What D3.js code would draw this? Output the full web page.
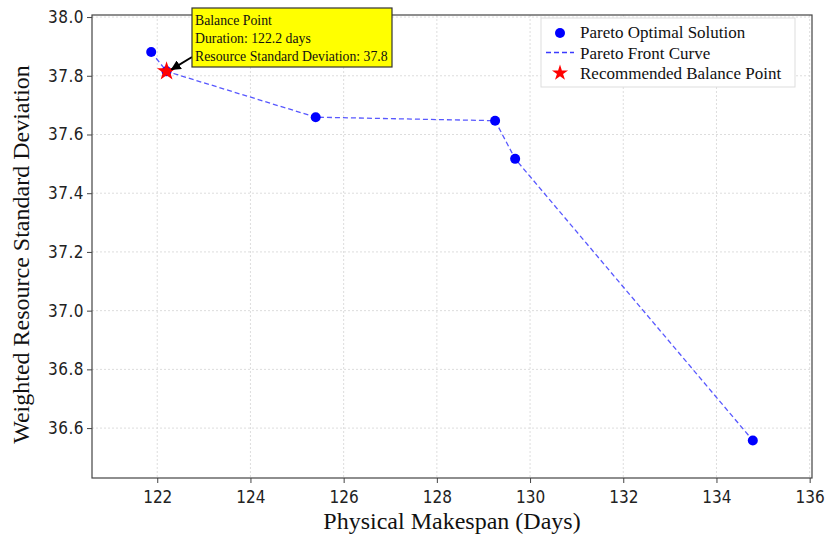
<!DOCTYPE html>
<html>
<head>
<meta charset="utf-8">
<script src="https://cdn.jsdelivr.net/npm/d3@7"></script>
<style>
  body { margin: 0; background: #fff; }
  .tick text { font-family: "Liberation Sans Narrow", "DejaVu Sans Condensed", "Liberation Sans", sans-serif; font-size: 17px; fill: #222; }
  .lbl { font-family: "Liberation Serif", "Times New Roman", serif; fill: #111; }
</style>
</head>
<body>
<div id="vis"></div>
<script>
// datos del frente de Pareto
const makespan = [121.87, 122.2, 125.4, 129.25, 129.68, 134.78];
const resStd = [37.881, 37.815, 37.659, 37.647, 37.517, 36.558];
const balance = { x: 122.2, y: 37.815 };
const xTicks = [122, 124, 126, 128, 130, 132, 134, 136];
const yTicks = [36.6, 36.8, 37.0, 37.2, 37.4, 37.6, 37.8, 38.0];
const noteLines = ["Balance Point", "Duration: 122.2 days", "Resource Standard Deviation: 37.8"];
const legendItems = ["Pareto Optimal Solution", "Pareto Front Curve", "Recommended Balance Point"];

const width = 826, height = 535;
const m = { left: 92, right: 14, top: 15, bottom: 57 };

const svg = d3.select("#vis").append("svg")
  .attr("width", width)
  .attr("height", height);

const x = d3.scaleLinear().domain([120.6, 136.05]).range([m.left, width - m.right]);
const y = d3.scaleLinear().domain([36.43, 38.007]).range([height - m.bottom, m.top]);

// grid
svg.append("g").selectAll("line").data(xTicks).enter().append("line")
  .attr("x1", d => x(d)).attr("x2", d => x(d))
  .attr("y1", m.top).attr("y2", height - m.bottom)
  .attr("stroke", "#ddd").attr("stroke-dasharray", "2,2");
svg.append("g").selectAll("line").data(yTicks).enter().append("line")
  .attr("y1", d => y(d)).attr("y2", d => y(d))
  .attr("x1", m.left).attr("x2", width - m.right)
  .attr("stroke", "#ddd").attr("stroke-dasharray", "2,2");

// ejes
const xAxis = svg.append("g")
  .attr("transform", `translate(0,${height - m.bottom})`)
  .call(d3.axisBottom(x).tickValues(xTicks).tickFormat(d3.format("d")).tickSize(5).tickSizeOuter(0));
const yAxis = svg.append("g")
  .attr("transform", `translate(${m.left},0)`)
  .call(d3.axisLeft(y).tickValues(yTicks).tickFormat(d3.format(".1f")).tickSize(5).tickSizeOuter(0));
xAxis.select(".domain").remove();
yAxis.select(".domain").remove();
xAxis.selectAll(".tick line").attr("stroke", "#444");
yAxis.selectAll(".tick line").attr("stroke", "#444");
xAxis.selectAll(".tick text").attr("dy", "1.0em");
yAxis.selectAll(".tick text").attr("x", -8).attr("letter-spacing", "0.5px");

// marco
svg.append("rect")
  .attr("x", m.left).attr("y", m.top)
  .attr("width", width - m.left - m.right)
  .attr("height", height - m.top - m.bottom)
  .attr("fill", "none").attr("stroke", "#444").attr("stroke-width", 1.2);

// curva
const line = d3.line().x((d, i) => x(makespan[i])).y((d, i) => y(resStd[i]));
svg.append("path")
  .datum(makespan)
  .attr("d", line)
  .attr("fill", "none")
  .attr("stroke", "#3b3bff")
  .attr("stroke-opacity", 0.85)
  .attr("stroke-width", 1.3)
  .attr("stroke-dasharray", "5,3");

// puntos
svg.selectAll("circle.pt")
  .data(makespan)
  .enter()
  .append("circle")
  .attr("class", "pt")
  .attr("cx", d => x(d))
  .attr("cy", (d, i) => y(resStd[i]))
  .attr("r", 5)
  .attr("fill", "#0000ff");

// estrella
const star = d3.symbol().type(d3.symbolStar).size(115);
svg.append("path")
  .attr("d", star())
  .attr("transform", `translate(${x(balance.x)},${y(balance.y)})`)
  .attr("fill", "#ff0000");

// anotacion
const bx = 192, by = 8, bw = 200, bh = 59;
svg.append("defs").append("marker")
  .attr("id", "arr")
  .attr("viewBox", "0 0 10 10")
  .attr("refX", 9).attr("refY", 5)
  .attr("markerWidth", 5).attr("markerHeight", 5)
  .attr("markerUnits", "strokeWidth")
  .attr("orient", "auto")
  .append("path").attr("d", "M0,0L10,5L0,10z").attr("fill", "#000");
svg.append("line")
  .attr("x1", bx).attr("y1", 57)
  .attr("x2", x(balance.x) + 5).attr("y2", y(balance.y) - 2)
  .attr("stroke", "#000").attr("stroke-width", 2)
  .attr("marker-end", "url(#arr)");
svg.append("rect")
  .attr("x", bx).attr("y", by).attr("width", bw).attr("height", bh)
  .attr("fill", "#ffff00").attr("stroke", "#333").attr("stroke-width", 1.2);
const notes = svg.selectAll("text.note")
  .data(noteLines)
  .enter()
  .append("text")
  .attr("class", "note lbl")
  .attr("x", bx + 3)
  .attr("y", (d, i) => by + 17 + i * 18)
  .attr("font-size", 14)
  .text(d => d);
// ajustar tamaño para que la linea larga quepa en la caja
const w3 = notes.nodes()[2].getComputedTextLength();
const fs = Math.min(16, 14 * 193 / w3);
notes.attr("font-size", fs);

// leyenda
const lg = svg.append("g");
lg.append("rect")
  .attr("x", 541).attr("y", 18).attr("width", 254).attr("height", 69)
  .attr("fill", "#fff").attr("stroke", "#ddd");
lg.selectAll("text")
  .data(legendItems)
  .enter()
  .append("text")
  .attr("class", "lbl")
  .attr("x", 580)
  .attr("y", (d, i) => 38 + i * 20.5)
  .attr("font-size", 17)
  .text(d => d);
lg.append("circle").attr("cx", 560).attr("cy", 33).attr("r", 5).attr("fill", "#0000ff");
lg.append("line").attr("x1", 546).attr("x2", 574).attr("y1", 52.5).attr("y2", 52.5)
  .attr("stroke", "#3b3bff").attr("stroke-width", 1.3).attr("stroke-dasharray", "5,3");
lg.append("path").attr("d", d3.symbol().type(d3.symbolStar).size(80)()).attr("transform", "translate(560,73)").attr("fill", "#ff0000");

// titulos de ejes
svg.append("text")
  .attr("class", "lbl")
  .attr("x", (m.left + width - m.right) / 2 + 0)
  .attr("y", 529)
  .attr("text-anchor", "middle")
  .attr("font-size", 24)
  .text("Physical Makespan (Days)");
svg.append("text")
  .attr("class", "lbl")
  .attr("transform", `translate(29,${(m.top + height - m.bottom) / 2 + 8}) rotate(-90)`)
  .attr("text-anchor", "middle")
  .attr("font-size", 24)
  .text("Weighted Resource Standard Deviation");
</script>
</body>
</html>
